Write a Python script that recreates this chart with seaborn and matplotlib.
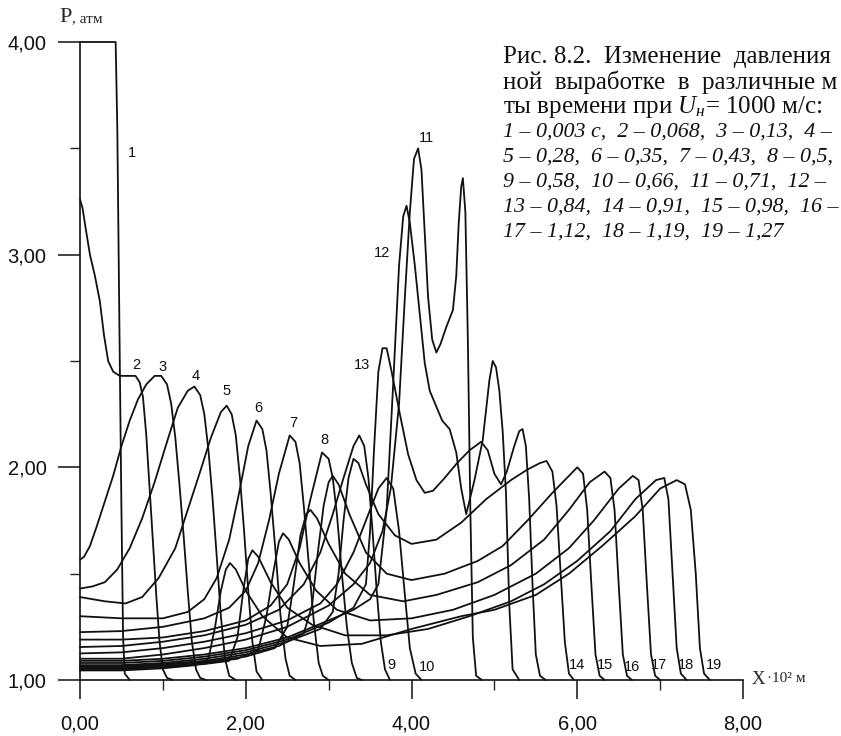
import matplotlib
matplotlib.use("Agg")
import matplotlib.pyplot as plt
import seaborn as sns
import pandas as pd

# ---------------- data (x in 10^2 m, P in atm) ----------------
x1 = [0, 0.43, 0.45, 0.48, 0.50, 0.52, 0.54, 0.60]
p1 = [4.0, 4.0, 3.6, 2.5, 1.8, 1.2, 1.03, 1.0]

x2 = [0, 0.03, 0.07, 0.12, 0.18, 0.24, 0.29, 0.34, 0.40, 0.48, 0.67, 0.72, 0.76, 0.80, 0.84, 0.88, 0.92, 0.96, 1.00, 1.05, 1.12]
p2 = [3.26, 3.22, 3.12, 3.0, 2.9, 2.78, 2.62, 2.5, 2.45, 2.43, 2.43, 2.4, 2.33, 2.15, 1.9, 1.65, 1.4, 1.18, 1.05, 1.01, 1.0]

x3 = [0, 0.05, 0.12, 0.2, 0.3, 0.4, 0.5, 0.6, 0.7, 0.8, 0.9, 0.98, 1.05, 1.1, 1.15, 1.2, 1.25, 1.3, 1.35, 1.4, 1.45, 1.52]
p3 = [1.565, 1.58, 1.63, 1.72, 1.84, 1.96, 2.1, 2.22, 2.32, 2.39, 2.43, 2.43, 2.39, 2.3, 2.14, 1.92, 1.68, 1.42, 1.18, 1.05, 1.01, 1.0]

x4 = [0, 0.15, 0.3, 0.45, 0.6, 0.75, 0.9, 1.05, 1.18, 1.3, 1.38, 1.45, 1.5, 1.55, 1.6, 1.65, 1.7, 1.75, 1.8, 1.88]
p4 = [1.43, 1.44, 1.46, 1.52, 1.62, 1.76, 1.93, 2.12, 2.28, 2.36, 2.38, 2.34, 2.25, 2.08, 1.85, 1.58, 1.3, 1.1, 1.02, 1.0]

x5 = [0, 0.3, 0.55, 0.75, 0.95, 1.15, 1.3, 1.45, 1.58, 1.7, 1.77, 1.83, 1.88, 1.93, 1.98, 2.03, 2.08, 2.13, 2.2]
p5 = [1.39, 1.37, 1.36, 1.39, 1.48, 1.62, 1.8, 1.98, 2.14, 2.26, 2.29, 2.25, 2.15, 1.95, 1.7, 1.42, 1.18, 1.04, 1.0]

x6 = [0, 0.5, 1.0, 1.3, 1.5, 1.65, 1.8, 1.92, 2.03, 2.13, 2.2, 2.25, 2.3, 2.36, 2.42, 2.48, 2.53, 2.6]
p6 = [1.30, 1.29, 1.29, 1.32, 1.38, 1.48, 1.66, 1.88, 2.1, 2.22, 2.18, 2.08, 1.88, 1.6, 1.3, 1.1, 1.02, 1.0]

x7 = [0, 0.5, 1.0, 1.5, 1.8, 2.0, 2.15, 2.28, 2.4, 2.53, 2.6, 2.65, 2.7, 2.76, 2.82, 2.88, 2.93, 3.0]
p7 = [1.225, 1.23, 1.25, 1.29, 1.34, 1.42, 1.55, 1.75, 1.97, 2.15, 2.12, 2.02, 1.82, 1.55, 1.28, 1.08, 1.02, 1.0]

x8 = [0, 0.5, 1.0, 1.5, 2.0, 2.3, 2.5, 2.65, 2.78, 2.92, 3.0, 3.05, 3.1, 3.16, 3.22, 3.28, 3.34, 3.4]
p8 = [1.19, 1.19, 1.2, 1.23, 1.28, 1.35, 1.45, 1.62, 1.85, 2.07, 2.04, 1.95, 1.78, 1.5, 1.25, 1.08, 1.01, 1.0]

x9 = [0, 0.5, 1.0, 1.5, 2.0, 2.4, 2.7, 2.9, 3.05, 3.18, 3.3, 3.37, 3.43, 3.48, 3.53, 3.58, 3.63, 3.68, 3.74]
p9 = [1.155, 1.16, 1.18, 1.21, 1.26, 1.33, 1.45, 1.6, 1.78, 1.95, 2.1, 2.15, 2.1, 1.95, 1.7, 1.42, 1.18, 1.05, 1.0]

x10 = [0, 0.5, 1.0, 1.5, 2.0, 2.5, 2.9, 3.1, 3.3, 3.45, 3.6, 3.7, 3.78, 3.85, 3.92, 3.98, 4.05, 4.12]
p10 = [1.125, 1.13, 1.15, 1.18, 1.22, 1.28, 1.36, 1.45, 1.6, 1.75, 1.9, 1.95, 1.9, 1.7, 1.4, 1.15, 1.03, 1.0]

x11 = [0, 0.5, 1.0, 1.5, 2.0, 2.5, 3.0, 3.3, 3.5, 3.65, 3.75, 3.85, 3.92, 3.98, 4.03, 4.08, 4.12, 4.16, 4.2, 4.25,
       4.3, 4.35, 4.42, 4.5, 4.54, 4.57, 4.6, 4.62, 4.65, 4.68, 4.71, 4.74, 4.78, 4.85]
p11 = [1.10, 1.1, 1.12, 1.15, 1.19, 1.25, 1.35, 1.45, 1.55, 1.7, 1.9, 2.3, 2.8, 3.2, 3.45, 3.5, 3.4, 3.1, 2.8, 2.6,
       2.54, 2.58, 2.66, 2.74, 2.9, 3.15, 3.32, 3.36, 3.2, 2.6, 1.8, 1.2, 1.02, 1.0]

x12 = [0, 0.5, 1.0, 1.5, 2.0, 2.5, 3.0, 3.3, 3.5, 3.6, 3.7, 3.78, 3.85, 3.9, 3.94, 3.98, 4.04, 4.1, 4.16, 4.22,
       4.37, 4.46, 4.54, 4.6, 4.66, 4.76, 4.86, 4.94, 4.98, 5.02, 5.06, 5.1, 5.14, 5.18, 5.22, 5.3]
p12 = [1.09, 1.09, 1.1, 1.12, 1.15, 1.2, 1.28, 1.33, 1.38, 1.45, 1.8, 2.4, 2.95, 3.18, 3.23, 3.15, 2.95, 2.72, 2.49, 2.36,
       2.22, 2.18, 2.07, 1.9, 1.78, 1.94, 2.13, 2.41, 2.5, 2.47, 2.36, 2.17, 1.88, 1.35, 1.05, 1.0]

x13 = [0, 0.5, 1.0, 1.5, 2.0, 2.5, 3.0, 3.3, 3.45, 3.5, 3.55, 3.6, 3.65, 3.7, 3.76, 3.86, 3.96, 4.06, 4.16, 4.26,
       4.4, 4.55, 4.7, 4.84, 4.92, 5.0, 5.08, 5.15, 5.24, 5.3, 5.34, 5.38, 5.42, 5.46, 5.5, 5.55, 5.62]
p13 = [1.08, 1.08, 1.09, 1.11, 1.14, 1.19, 1.27, 1.34, 1.45, 1.7, 2.1, 2.45, 2.56, 2.56, 2.45, 2.25, 2.06, 1.94, 1.88, 1.89,
       1.95, 2.02, 2.08, 2.12, 2.08, 1.97, 1.92, 1.98, 2.1, 2.17, 2.18, 2.1, 1.85, 1.45, 1.12, 1.02, 1.0]

x14 = [0, 0.5, 1.0, 1.5, 2.0, 2.5, 2.9, 3.05, 3.12, 3.18, 3.24, 3.3, 3.36, 3.45, 3.6, 3.8, 4.0, 4.3, 4.6, 4.9,
       5.2, 5.4, 5.55, 5.63, 5.7, 5.75, 5.8, 5.85, 5.9, 5.96]
p14 = [1.07, 1.07, 1.08, 1.1, 1.13, 1.18, 1.24, 1.32, 1.5, 1.75, 1.95, 2.04, 2.02, 1.92, 1.78, 1.68, 1.64, 1.66, 1.74, 1.85,
       1.94, 1.99, 2.02, 2.03, 1.98, 1.82, 1.5, 1.18, 1.03, 1.0]

x15 = [0, 0.5, 1.0, 1.5, 2.0, 2.4, 2.7, 2.8, 2.87, 2.94, 3.0, 3.05, 3.12, 3.25, 3.45, 3.7, 4.0, 4.4, 4.8, 5.1,
       5.4, 5.7, 5.9, 6.0, 6.07, 6.12, 6.17, 6.22, 6.27, 6.33]
p15 = [1.065, 1.065, 1.075, 1.09, 1.12, 1.16, 1.22, 1.35, 1.6, 1.82, 1.93, 1.96, 1.92, 1.78, 1.6, 1.5, 1.47, 1.5, 1.56, 1.63,
       1.75, 1.88, 1.96, 2.0, 1.97, 1.8, 1.45, 1.12, 1.02, 1.0]

x16 = [0, 0.5, 1.0, 1.5, 2.0, 2.35, 2.5, 2.58, 2.66, 2.73, 2.78, 2.86, 3.0, 3.2, 3.5, 3.9, 4.3, 4.8, 5.2, 5.6,
       5.9, 6.15, 6.33, 6.4, 6.45, 6.5, 6.55, 6.6, 6.66]
p16 = [1.06, 1.06, 1.07, 1.085, 1.11, 1.15, 1.25, 1.45, 1.68, 1.78, 1.8, 1.76, 1.64, 1.5, 1.4, 1.37, 1.4, 1.46, 1.54, 1.66,
       1.8, 1.93, 1.98, 1.95, 1.8, 1.45, 1.12, 1.02, 1.0]

x17 = [0, 0.5, 1.0, 1.5, 1.9, 2.15, 2.25, 2.33, 2.4, 2.45, 2.52, 2.65, 2.85, 3.1, 3.5, 4.0, 4.5, 5.0, 5.5, 5.9,
       6.2, 6.5, 6.67, 6.74, 6.79, 6.84, 6.89, 6.94, 7.0]
p17 = [1.055, 1.055, 1.065, 1.08, 1.1, 1.14, 1.3, 1.5, 1.65, 1.69, 1.66, 1.55, 1.42, 1.33, 1.28, 1.29, 1.33, 1.4, 1.5, 1.62,
       1.75, 1.9, 1.96, 1.94, 1.8, 1.45, 1.12, 1.02, 1.0]

x18 = [0, 0.5, 1.0, 1.5, 1.8, 1.9, 1.97, 2.03, 2.08, 2.15, 2.3, 2.5, 2.8, 3.2, 3.7, 4.2, 4.7, 5.2, 5.6, 6.0,
       6.4, 6.7, 6.95, 7.05, 7.1, 7.15, 7.2, 7.25, 7.32]
p18 = [1.05, 1.05, 1.06, 1.075, 1.09, 1.2, 1.42, 1.57, 1.61, 1.58, 1.46, 1.34, 1.26, 1.21, 1.21, 1.24, 1.3, 1.37, 1.45, 1.56,
       1.7, 1.85, 1.94, 1.95, 1.85, 1.5, 1.15, 1.03, 1.0]

x19 = [0, 0.5, 1.0, 1.4, 1.55, 1.63, 1.7, 1.76, 1.81, 1.88, 2.0, 2.2, 2.5, 2.9, 3.4, 4.0, 4.6, 5.0, 5.5, 5.9,
       6.3, 6.7, 7.0, 7.2, 7.3, 7.37, 7.43, 7.48, 7.53, 7.6]
p19 = [1.045, 1.045, 1.055, 1.07, 1.1, 1.25, 1.42, 1.52, 1.55, 1.52, 1.42, 1.3, 1.2, 1.16, 1.17, 1.24, 1.3, 1.33, 1.4, 1.5,
       1.63, 1.77, 1.9, 1.94, 1.92, 1.8, 1.5, 1.15, 1.03, 1.0]

curve_names = [str(i) for i in range(1, 20)]
label_x = [0.63, 0.675, 0.99, 1.40, 1.77, 2.15, 2.57, 2.95, 3.76, 4.19, 4.18, 3.64, 3.40, 6.0, 6.33, 6.66, 6.99, 7.31, 7.65]
label_p = [3.48, 2.48, 2.47, 2.43, 2.36, 2.28, 2.21, 2.13, 1.07, 1.06, 3.55, 3.01, 2.48, 1.07, 1.07, 1.06, 1.07, 1.07, 1.07]

y_ticks = [1, 2, 3, 4]
y_tick_labels = ["1,00", "2,00", "3,00", "4,00"]
x_ticks = [0, 2, 4, 6, 8]
x_tick_labels = ["0,00", "2,00", "4,00", "6,00", "8,00"]

# caption rows as far as the reference shows them (it runs off the right edge)
caption_upright = [
    "Рис. 8.2.  Изменение  давления",
    "ной  выработке  в  различные м",
    "ты времени при $\\mathit{U}_{\\mathit{н}}$= 1000 м/с:",
]
caption_italic = [
    "1 – 0,003 с,  2 – 0,068,  3 – 0,13,  4 –",
    "5 – 0,28,  6 – 0,35,  7 – 0,43,  8 – 0,5,",
    "9 – 0,58,  10 – 0,66,  11 – 0,71,  12 –",
    "13 – 0,84,  14 – 0,91,  15 – 0,98,  16 –",
    "17 – 1,12,  18 – 1,19,  19 – 1,27",
]

# ---------------- build table ----------------
xs = [x1, x2, x3, x4, x5, x6, x7, x8, x9, x10, x11, x12, x13, x14, x15, x16, x17, x18, x19]
ps = [p1, p2, p3, p4, p5, p6, p7, p8, p9, p10, p11, p12, p13, p14, p15, p16, p17, p18, p19]
rows = []
for name, xx, pp in zip(curve_names, xs, ps):
    for a, b in zip(xx, pp):
        rows.append((name, a, b))
df = pd.DataFrame(rows, columns=["curve", "x", "P"])

# ---------------- plot ----------------
sns.set_theme(style="ticks")
plt.rcParams["font.family"] = ["Liberation Sans", "DejaVu Sans"]
plt.rcParams["mathtext.fontset"] = "custom"
plt.rcParams["mathtext.rm"] = "Liberation Serif"
plt.rcParams["mathtext.it"] = "Liberation Serif:italic"

W, H = 841, 736
fig = plt.figure(figsize=(W / 100, H / 100), dpi=100)
ax = fig.add_axes([80 / W, 1 - 680 / H, (743 - 80) / W, (680 - 42) / H])

sns.lineplot(data=df, x="x", y="P", units="curve", estimator=None, sort=False,
             color="#111111", linewidth=1.3, legend=False, ax=ax)
for ln in ax.lines:
    ln.set_clip_on(False)
    ln.set_solid_joinstyle("round")

ax.set_xlim(0, 8)
ax.set_ylim(1, 4)
ax.set_xlabel("")
ax.set_ylabel("")
for s in ["top", "right"]:
    ax.spines[s].set_visible(False)
for s in ["left", "bottom"]:
    ax.spines[s].set_linewidth(1.2)
    ax.spines[s].set_color("#111111")

ax.set_yticks(y_ticks)
ax.set_yticklabels(y_tick_labels)
ax.set_yticks([1.5, 2.5, 3.5], minor=True)
ax.set_xticks(x_ticks)
ax.set_xticklabels(x_tick_labels)
ax.set_xticks([1, 3, 5, 7], minor=True)
ax.tick_params(axis="y", which="major", direction="out", length=16, width=1.1, pad=8,
               labelsize=14.5, colors="#111111")
ax.tick_params(axis="y", which="minor", direction="out", length=7, width=1.0)
ax.tick_params(axis="x", which="major", direction="out", length=14, width=1.1, pad=11,
               labelsize=14.5, colors="#111111")
ax.tick_params(axis="x", which="minor", direction="out", length=7, width=1.0)

for name, lx, lp in zip(curve_names, label_x, label_p):
    ax.text(lx, lp, name, fontsize=10.5, ha="center", va="center", color="#111111")

# axis titles
fig.text(59 / W, 1 - 17 / H, "P", fontsize=16, family="Liberation Serif", va="center", ha="left")
fig.text(72 / W, 1 - 19 / H, ", атм", fontsize=11, family="Liberation Serif", va="center", ha="left")
fig.text(752 / W, 1 - 680 / H, "X", fontsize=13.5, family="Liberation Serif", va="center", ha="left")
fig.text(767 / W, 1 - 679 / H, "·10² м", fontsize=11, family="Liberation Serif", va="center", ha="left")

# caption
row_y = 57
for line in caption_upright:
    fig.text(503 / W, 1 - row_y / H, line, fontsize=18, family="Liberation Serif",
             va="center", ha="left", color="#111111")
    row_y += 25
for line in caption_italic:
    fig.text(503 / W, 1 - row_y / H, line, fontsize=15.8, family="Liberation Serif",
             style="italic", va="center", ha="left", color="#111111")
    row_y += 25

fig.savefig("out.png", dpi=100)
